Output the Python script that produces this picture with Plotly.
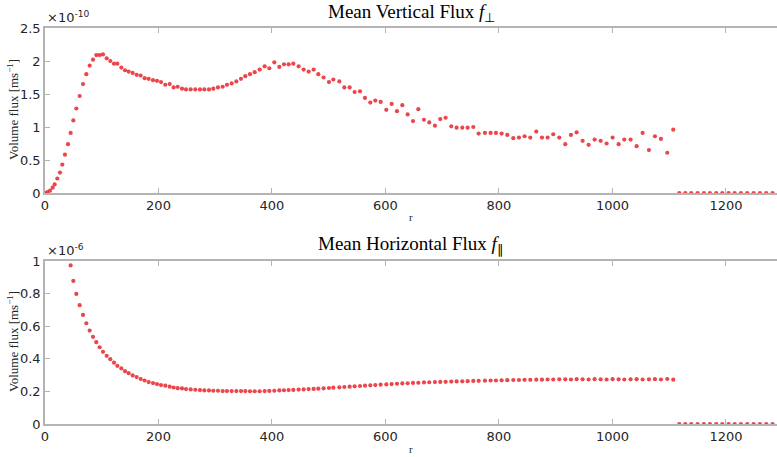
import plotly.graph_objects as go

# radial positions
r = [0, 4.1, 8.8, 13.5, 17.0, 21.7, 26.4, 30.5, 35.2, 40.5,
     45.2, 49.9, 55.2, 61.1, 67.0, 72.8, 78.7, 84.6, 90.4, 96.3,
     102.2, 108.7, 115.1, 121.6, 127.5, 134.5, 141.0, 147.4, 154.5, 161.5,
     168.6, 175.6, 182.7, 190.3, 197.4, 204.4, 212.0, 219.7, 226.7, 233.8,
     241.4, 248.5, 256.7, 264.9, 273.1, 280.8, 289.0, 296.6, 304.8, 313.1,
     320.7, 328.9, 337.2, 345.4, 353.0, 361.2, 369.5, 378.3, 387.1, 395.3,
     404.1, 412.9, 421.1, 429.4, 437.6, 447.0, 455.8, 464.6, 473.4, 481.6,
     491.0, 500.4, 508.1, 518.7, 527.5, 536.9, 545.7, 555.1, 563.9, 573.3,
     582.1, 591.5, 601.5, 610.9, 620.3, 629.7, 639.1, 648.5, 657.9, 667.8,
     677.2, 687.2, 696.6, 706.0, 716.0, 725.4, 735.4, 744.8, 754.8, 764.2,
     775.3, 785.3, 794.7, 804.7, 814.7, 825.3, 835.2, 845.2, 855.2, 865.8,
     875.8, 885.8, 895.7, 906.3, 916.9, 926.9, 936.9, 947.4, 958.0, 968.6,
     979.2, 989.7, 1000.3, 1010.9, 1020.9, 1032.0, 1042.6, 1053.2, 1064.3, 1074.9,
     1085.5, 1096.6, 1107.2,
     1117.8, 1128.4, 1138.9, 1150.1, 1161.2, 1171.8, 1182.9, 1193.5, 1204.7, 1215.3,
     1226.4, 1237.6, 1248.8, 1259.9, 1271.1, 1282.2]

# mean vertical flux, in units of 1e-10 m/s
vertical_flux_e10 = [
    0, 0.015, 0.035, 0.08, 0.13, 0.22, 0.31, 0.43, 0.58, 0.74,
    0.91, 1.10, 1.28, 1.47, 1.65, 1.80, 1.93, 2.02, 2.09, 2.09,
    2.10, 2.04, 2.00, 1.96, 1.96, 1.90, 1.86, 1.84, 1.82, 1.79,
    1.78, 1.74, 1.73, 1.71, 1.70, 1.68, 1.64, 1.65, 1.60, 1.61,
    1.58, 1.57, 1.57, 1.57, 1.57, 1.57, 1.57, 1.58, 1.60, 1.61,
    1.64, 1.66, 1.69, 1.73, 1.77, 1.80, 1.83, 1.87, 1.92, 1.89,
    1.98, 1.91, 1.95, 1.95, 1.96, 1.92, 1.87, 1.84, 1.87, 1.80,
    1.75, 1.68, 1.72, 1.69, 1.60, 1.60, 1.53, 1.54, 1.44, 1.37,
    1.40, 1.38, 1.26, 1.35, 1.24, 1.33, 1.19, 1.09, 1.27, 1.11,
    1.07, 1.02, 1.12, 1.14, 1.01, 0.99, 0.99, 0.99, 1.00, 0.90,
    0.91, 0.91, 0.91, 0.90, 0.88, 0.83, 0.84, 0.86, 0.84, 0.93,
    0.84, 0.84, 0.89, 0.84, 0.74, 0.88, 0.92, 0.79, 0.73, 0.81,
    0.79, 0.75, 0.84, 0.74, 0.81, 0.81, 0.71, 0.91, 0.65, 0.86,
    0.82, 0.61, 0.96,
    0, 0, 0, 0, 0, 0, 0, 0, 0, 0, 0, 0, 0, 0, 0, 0]

# mean horizontal flux, in units of 1e-6 m/s (first points lie above the axis range)
horizontal_flux_e6 = [
    None, None, None, None, None, None, None, None, None, None,
    0.973, 0.878, 0.798, 0.729, 0.669, 0.618, 0.573, 0.535, 0.502, 0.471,
    0.443, 0.418, 0.398, 0.376, 0.357, 0.341, 0.324, 0.312, 0.298, 0.288,
    0.276, 0.267, 0.257, 0.251, 0.245, 0.239, 0.235, 0.229, 0.224, 0.220,
    0.218, 0.214, 0.212, 0.210, 0.208, 0.206, 0.206, 0.204, 0.204, 0.202,
    0.202, 0.202, 0.202, 0.202, 0.202, 0.201, 0.201, 0.201, 0.202, 0.203,
    0.204, 0.206, 0.207, 0.208, 0.209, 0.211, 0.212, 0.214, 0.215, 0.217,
    0.219, 0.221, 0.223, 0.225, 0.227, 0.229, 0.231, 0.233, 0.235, 0.237,
    0.239, 0.241, 0.243, 0.245, 0.247, 0.249, 0.250, 0.252, 0.253, 0.255,
    0.256, 0.257, 0.258, 0.259, 0.260, 0.261, 0.262, 0.263, 0.264, 0.265,
    0.266, 0.267, 0.267, 0.268, 0.269, 0.270, 0.270, 0.271, 0.271, 0.272,
    0.272, 0.273, 0.273, 0.274, 0.274, 0.273, 0.275, 0.274, 0.273, 0.275,
    0.274, 0.273, 0.275, 0.274, 0.273, 0.274, 0.275, 0.273, 0.274, 0.275,
    0.273, 0.276, 0.272,
    0, 0, 0, 0, 0, 0, 0, 0, 0, 0, 0, 0, 0, 0, 0, 0]

x_ticks = [0, 200, 400, 600, 800, 1000, 1200]
top_y_ticks = [0, 0.5, 1, 1.5, 2, 2.5]
top_y_labels = ["0", "0.5", "1", "1.5", "2", "2.5"]
bot_y_ticks = [0, 0.2, 0.4, 0.6, 0.8, 1]
bot_y_labels = ["0", "0.2", "0.4", "0.6", "0.8", "1"]

RED = "rgba(232,50,55,0.9)"
AX = "#b4b4b4"
TXT = "#262626"
SERIF = "Liberation Serif"
SANS = "DejaVu Sans"

fig = go.Figure()
fig.add_trace(go.Scatter(x=r, y=vertical_flux_e10, mode="markers",
                         marker=dict(color=RED, size=4.2, line=dict(width=0)),
                         xaxis="x", yaxis="y", cliponaxis=True, showlegend=False))
fig.add_trace(go.Scatter(x=r, y=horizontal_flux_e6, mode="markers",
                         marker=dict(color=RED, size=4.2, line=dict(width=0)),
                         xaxis="x2", yaxis="y2", cliponaxis=True, showlegend=False))

common_x = dict(range=[0, 1290], tickvals=x_ticks, ticks="inside", ticklen=5,
                tickcolor=AX, showline=True, linecolor=AX, linewidth=1.5,
                mirror="ticks", showgrid=False, zeroline=False,
                tickfont=dict(family=SANS, size=13, color=TXT))
common_y = dict(ticks="inside", ticklen=5, tickcolor=AX, showline=True,
                linecolor=AX, linewidth=1.5, showgrid=False, zeroline=False,
                tickfont=dict(family=SANS, size=13, color=TXT))

top_dom = [(424 - 193) / 396, 1.0]
bot_dom = [0.0, (424 - 261) / 396]

fig.update_layout(
    width=777, height=457,
    margin=dict(l=45, r=0, t=28, b=33, autoexpand=False),
    paper_bgcolor="white", plot_bgcolor="white",
    xaxis=dict(common_x, anchor="y"),
    yaxis=dict(common_y, domain=top_dom, anchor="x", range=[0, 2.5],
               tickvals=top_y_ticks, ticktext=top_y_labels),
    xaxis2=dict(common_x, anchor="y2"),
    yaxis2=dict(common_y, domain=bot_dom, anchor="x2", range=[0, 1],
                tickvals=bot_y_ticks, ticktext=bot_y_labels),
)

def px_y(p):
    return (424 - p) / 396

def px_x(p):
    return (p - 45) / 732

ann = []
ann.append(dict(text="Mean Vertical Flux <i>f</i><sub>⊥</sub>", x=0.5, y=px_y(13),
                xref="paper", yref="paper", xanchor="center", yanchor="middle",
                showarrow=False, font=dict(family=SERIF, size=19, color="black")))
ann.append(dict(text="Mean Horizontal Flux <i>f</i><sub>∥</sub>", x=0.5, y=px_y(245),
                xref="paper", yref="paper", xanchor="center", yanchor="middle",
                showarrow=False, font=dict(family=SERIF, size=19, color="black")))
for yc in (110, 342):
    ann.append(dict(text="Volume flux [ms<sup>−1</sup>]", x=px_x(13), y=px_y(yc),
                    xref="paper", yref="paper", xanchor="center", yanchor="middle",
                    showarrow=False, textangle=-90,
                    font=dict(family=SERIF, size=13, color=TXT)))
for yc in (217, 449):
    ann.append(dict(text="r", x=0.5, y=px_y(yc), xref="paper", yref="paper",
                    xanchor="center", yanchor="middle",
                    showarrow=False, font=dict(family=SERIF, size=11, color=TXT)))
ann.append(dict(text="×10<sup>-10</sup>", x=px_x(45), y=px_y(27), xref="paper",
                yref="paper", xanchor="left", yanchor="bottom", showarrow=False,
                font=dict(family=SANS, size=13, color=TXT)))
ann.append(dict(text="×10<sup>-6</sup>", x=px_x(45), y=px_y(260), xref="paper",
                yref="paper", xanchor="left", yanchor="bottom", showarrow=False,
                font=dict(family=SANS, size=13, color=TXT)))
fig.update_layout(annotations=ann)

fig.write_html("out.html")
